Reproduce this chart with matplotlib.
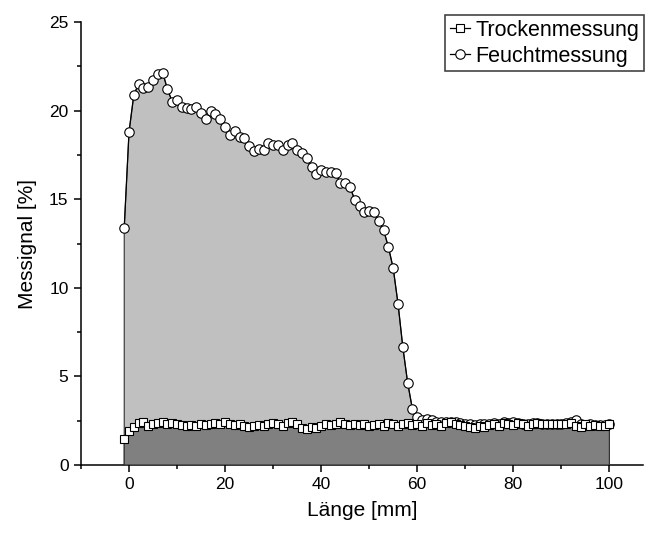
import numpy as np
import matplotlib
matplotlib.use('Agg')
import matplotlib.pyplot as plt
from matplotlib.ticker import MultipleLocator

plt.rcParams['font.family'] = 'Liberation Sans'

# position along the sample [mm]
laenge = np.arange(-1, 101)

# dry measurement (squares)
trocken = [1.45, 1.9, 2.15, 2.35, 2.4, 2.2, 2.3, 2.35, 2.4, 2.3,
           2.35, 2.3, 2.25, 2.2, 2.25, 2.2, 2.3, 2.25, 2.3, 2.35,
           2.3, 2.4, 2.3, 2.25, 2.3, 2.2, 2.15, 2.2, 2.25, 2.2,
           2.3, 2.35, 2.3, 2.2, 2.35, 2.4, 2.3, 2.1, 2.05, 2.15,
           2.1, 2.2, 2.3, 2.25, 2.3, 2.4, 2.3, 2.25, 2.3, 2.25,
           2.3, 2.2, 2.25, 2.3, 2.2, 2.35, 2.3, 2.2, 2.3, 2.35,
           2.25, 2.3, 2.2, 2.35, 2.25, 2.3, 2.2, 2.35, 2.4, 2.3,
           2.25, 2.2, 2.15, 2.1, 2.2, 2.15, 2.25, 2.3, 2.2, 2.35,
           2.3, 2.25, 2.35, 2.3, 2.2, 2.3, 2.35, 2.3, 2.3, 2.3,
           2.3, 2.3, 2.3, 2.35, 2.2, 2.15, 2.3, 2.2, 2.25, 2.2,
           2.2, 2.3]

# wet measurement (circles)
feucht = [13.4, 18.8, 20.9, 21.5, 21.3, 21.35, 21.7, 22.05, 22.15, 21.2,
          20.5, 20.6, 20.2, 20.15, 20.1, 20.2, 19.85, 19.55, 19.95, 19.8,
          19.55, 19.05, 18.65, 18.85, 18.5, 18.45, 18.0, 17.7, 17.85, 17.75,
          18.15, 18.05, 18.05, 17.8, 18.05, 18.2, 17.8, 17.6, 17.3, 16.8,
          16.45, 16.65, 16.55, 16.55, 16.5, 15.9, 15.9, 15.7, 14.95, 14.6,
          14.3, 14.35, 14.25, 13.75, 13.25, 12.3, 11.1, 9.1, 6.65, 4.65,
          3.15, 2.7, 2.55, 2.6, 2.55, 2.45, 2.4, 2.4, 2.45, 2.4,
          2.35, 2.3, 2.3, 2.25, 2.3, 2.3, 2.3, 2.35, 2.3, 2.4,
          2.35, 2.45, 2.35, 2.3, 2.3, 2.35, 2.35, 2.3, 2.3, 2.3,
          2.3, 2.3, 2.35, 2.4, 2.55, 2.3, 2.25, 2.3, 2.25, 2.25,
          2.25, 2.3]

fig = plt.figure(figsize=(6.47, 5.33), dpi=100)
ax = fig.add_axes([0.1252, 0.1276, 0.8686, 0.8311])

# filled areas to the bottom, drawn as closed polygons
px = np.concatenate([[laenge[0]], laenge, [laenge[-1]]])
ax.fill(px, np.concatenate([[0], feucht, [0]]), facecolor='#c0c0c0',
        edgecolor='#303030', linewidth=0.8, zorder=2)
ax.fill(px, np.concatenate([[0], trocken, [0]]), facecolor='#808080',
        edgecolor='#303030', linewidth=0.8, zorder=3)

l2, = ax.plot(laenge, feucht, '-', c='k', lw=0.9, marker='o', ms=6.8,
              mfc='white', mec='k', mew=0.8, zorder=4, label='Feuchtmessung')
l1, = ax.plot(laenge, trocken, '-', c='k', lw=0.9, marker='s', ms=5.6,
              mfc='white', mec='k', mew=0.8, zorder=5, label='Trockenmessung')

ax.set_xlim(-10, 107)
ax.set_ylim(0, 25)
ax.spines['top'].set_visible(False)
ax.spines['right'].set_visible(False)
for s in ['left', 'bottom']:
    ax.spines[s].set_linewidth(1.1)

ax.xaxis.set_major_locator(MultipleLocator(20))
ax.xaxis.set_minor_locator(MultipleLocator(10))
ax.yaxis.set_major_locator(MultipleLocator(5))
ax.yaxis.set_minor_locator(MultipleLocator(2.5))
ax.set_xticks([0, 20, 40, 60, 80, 100])
ax.tick_params(which='major', direction='out', length=5, width=1.1, labelsize=12.5, pad=4)
ax.tick_params(which='minor', direction='out', length=3, width=1.1)

ax.set_xlabel('Länge [mm]', fontsize=15, labelpad=6)
ax.set_ylabel('Messignal [%]', fontsize=15, labelpad=9)

leg = ax.legend(handles=[l1, l2], loc='upper right', bbox_to_anchor=(0.998, 0.975),
                bbox_transform=fig.transFigure, fontsize=15.5, frameon=True,
                fancybox=False, edgecolor='#444444', framealpha=1,
                handlelength=0.95, handletextpad=0.25, labelspacing=0.22,
                borderpad=0.2, borderaxespad=0.1)
leg.get_frame().set_linewidth(1.2)

fig.savefig('out.png', dpi=100)
